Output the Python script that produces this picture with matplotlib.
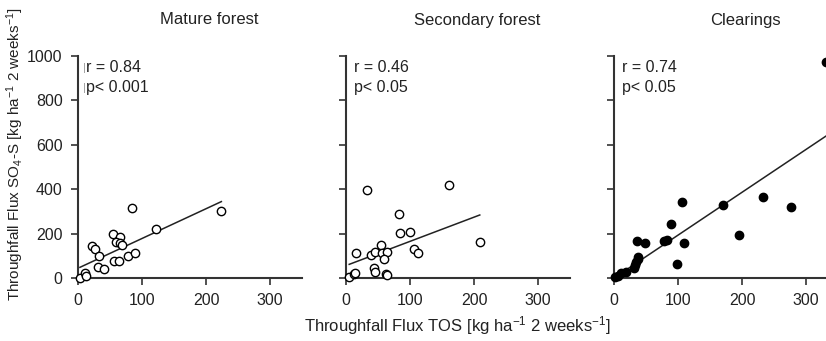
import numpy as np
import matplotlib
matplotlib.use('Agg')
import matplotlib.pyplot as plt

plt.rcParams['font.family'] = ['Liberation Sans', 'DejaVu Sans']
plt.rcParams['mathtext.default'] = 'regular'

# valeurs
titres = ['Mature forest', 'Secondary forest', 'Clearings']
textes_r = ['r = 0.84', 'r = 0.46', 'r = 0.74']
textes_p = ['p< 0.001', 'p< 0.05', 'p< 0.05']

mature_x = [3, 11, 12, 85, 122, 54, 66, 60, 65, 69, 22, 27, 33, 32, 41, 57, 64, 78, 89, 224]
mature_y = [1, 21, 10, 317, 221, 198, 186, 162, 156, 150, 144, 132, 98, 51, 41, 78, 77, 98, 114, 303]

second_x = [5, 13, 14, 33, 16, 39, 46, 55, 56, 64, 60, 43, 45, 63, 64, 83, 85, 100, 107, 113, 161, 209]
second_y = [6, 18, 21, 396, 114, 104, 116, 149, 114, 116, 84, 44, 27, 17, 14, 287, 204, 207, 132, 111, 420, 162]

clair_x = [2, 6, 11, 19, 31, 33, 35, 37, 38, 36, 49, 78, 83, 89, 99, 106, 110, 170, 233, 196, 277, 331]
clair_y = [3, 10, 21, 26, 44, 59, 74, 84, 96, 168, 156, 165, 170, 242, 63, 344, 159, 329, 365, 192, 318, 973]

# droites de régression (ordonnée, pente)
ordonnees = [44, 56, 0]
pentes = [1.34, 1.09, 1.93]

donnees = [(mature_x, mature_y, 'white'),
           (second_x, second_y, 'white'),
           (clair_x, clair_y, 'black')]

fig = plt.figure(figsize=(8.26, 3.41), dpi=100)
gauches = [78, 346, 614]
coul = '#222222'

for i, (xs, ys, face) in enumerate(donnees):
    ax = fig.add_axes([gauches[i] / 826, 63 / 341, 224 / 826, 222 / 341])
    ax.plot(xs, ys, 'o', mfc=face, mec='black', mew=1.0, ms=6, zorder=3, clip_on=False)
    xl = np.array([min(xs), max(xs)])
    ax.plot(xl, ordonnees[i] + pentes[i] * xl, '-', color='#222222', lw=1.1)
    ax.set_xlim(0, 350)
    ax.set_ylim(0, 1000)
    ax.set_xticks([0, 100, 200, 300])
    ax.set_yticks([0, 200, 400, 600, 800, 1000])
    for s in ['top', 'right']:
        ax.spines[s].set_visible(False)
    for s in ['left', 'bottom']:
        ax.spines[s].set_color('#333333')
        ax.spines[s].set_linewidth(1.5)
    ax.tick_params(direction='out', length=5, width=1.2, color='#333333',
                   labelsize=11.5, labelcolor=coul, pad=6)
    if i > 0:
        ax.set_yticklabels([])
    ax.text(205, 1.0 + 36 / 222, titres[i], transform=ax.get_xaxis_transform(),
            ha='center', va='center', fontsize=12, color=coul)
    ax.text(13, 946, textes_r[i], fontsize=11.5, color=coul, va='center')
    ax.text(13, 856, textes_p[i], fontsize=11.5, color=coul, va='center')
    if i == 0:
        ax.text(8, 946, '|', fontsize=8, color='#999999', va='center')
        ax.text(8, 856, '|', fontsize=8, color='#999999', va='center')

fig.text(457 / 826, 1 - 326 / 341,
         'Throughfall Flux TOS [kg ha$^{-1}$ 2 weeks$^{-1}$]',
         ha='center', va='center', fontsize=12, color=coul)
fig.text(15 / 826, 1 - 154 / 341,
         'Throughfall Flux SO$_4$-S [kg ha$^{-1}$ 2 weeks$^{-1}$]',
         ha='center', va='center', rotation=90, fontsize=11, color=coul)

fig.savefig('out.png', dpi=100)
